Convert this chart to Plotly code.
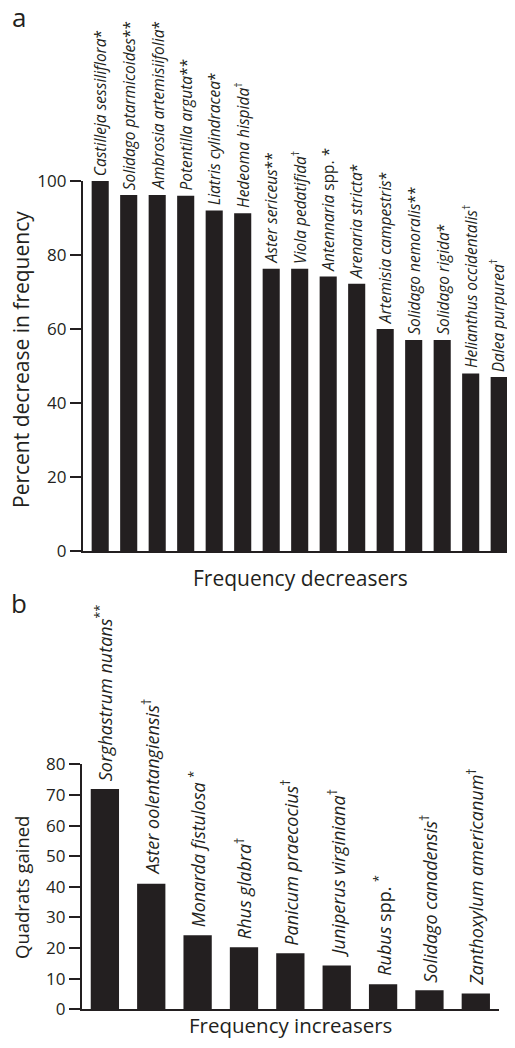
import plotly.graph_objects as go

# ---- Data ----
dec_names = ["Castilleja sessiliflora", "Solidago ptarmicoides", "Ambrosia artemisiifolia",
             "Potentilla arguta", "Liatris cylindracea", "Hedeoma hispida", "Aster sericeus",
             "Viola pedatifida", "Antennaria spp.", "Arenaria stricta", "Artemisia campestris",
             "Solidago nemoralis", "Solidago rigida", "Helianthus occidentalis", "Dalea purpurea"]
dec_labels = ["<i>Castilleja sessiliflora</i>*", "<i>Solidago ptarmicoides</i>**",
              "<i>Ambrosia artemisiifolia</i>*", "<i>Potentilla arguta</i>**",
              "<i>Liatris cylindracea</i>*", "<i>Hedeoma hispida</i><sup>†</sup>",
              "<i>Aster sericeus</i>**", "<i>Viola pedatifida</i><sup>†</sup>",
              "<i>Antennaria</i> spp. *", "<i>Arenaria stricta</i>*",
              "<i>Artemisia campestris</i>*", "<i>Solidago nemoralis</i>**",
              "<i>Solidago rigida</i>*", "<i>Helianthus occidentalis</i><sup>†</sup>",
              "<i>Dalea purpurea</i><sup>†</sup>"]
dec_values = [100, 96.2, 96.2, 96, 92, 91.3, 76.3, 76.3, 74.2, 72.2, 60, 57, 57, 48, 47]
dec_ticks = [0, 20, 40, 60, 80, 100]

inc_names = ["Sorghastrum nutans", "Aster oolentangiensis", "Monarda fistulosa", "Rhus glabra",
             "Panicum praecocius", "Juniperus virginiana", "Rubus spp.", "Solidago canadensis",
             "Zanthoxylum americanum"]
inc_labels = ["<i>Sorghastrum nutans</i><sup>**</sup>", "<i>Aster oolentangiensis</i><sup>†</sup>",
              "<i>Monarda fistulosa</i> <sup>*</sup>", "<i>Rhus glabra</i><sup>†</sup>",
              "<i>Panicum praecocius</i><sup>†</sup>", "<i>Juniperus virginiana</i><sup>†</sup>",
              "<i>Rubus</i> spp. <sup>*</sup>", "<i>Solidago canadensis</i><sup>†</sup>",
              "<i>Zanthoxylum americanum</i><sup>†</sup>"]
inc_values = [72, 41, 24.2, 20.3, 18.3, 14.3, 8.2, 6.2, 5.2]
inc_ticks = [0, 10, 20, 30, 40, 50, 60, 70, 80]

INK = "#231f20"
FONT = "Open Sans"
W, H = 499, 1032   # the page body adds an 8px margin on every side
OFF = 8

def px(x):
    return (x - OFF) / W

def py(y):
    return 1 - (y - OFF) / H

fig = go.Figure()
fig.add_trace(go.Bar(x=dec_names, y=dec_values, width=0.6, marker=dict(color=INK, line=dict(width=0)),
                     xaxis="x", yaxis="y", showlegend=False, hoverinfo="skip"))
fig.add_trace(go.Bar(x=inc_names, y=inc_values, width=0.61, marker=dict(color=INK, line=dict(width=0)),
                     xaxis="x2", yaxis="y2", showlegend=False, hoverinfo="skip"))

ann = []
n_dec = len(dec_names)
for i, (n, lab, v) in enumerate(zip(dec_names, dec_labels, dec_values)):
    ann.append(dict(x=n, y=v, xref="x", yref="y", text=lab, textangle=-90, showarrow=False,
                    xanchor="center", yanchor="bottom", yshift=4, borderpad=0,
                    xshift=(-2 if i == n_dec - 1 else 0),
                    font=dict(family=FONT, size=15.5, color=INK)))
for n, lab, v in zip(inc_names, inc_labels, inc_values):
    ann.append(dict(x=n, y=v, xref="x2", yref="y2", text=lab, textangle=-90, showarrow=False,
                    xanchor="center", yanchor="bottom", yshift=7, borderpad=0,
                    font=dict(family=FONT, size=18, color=INK)))

ann += [
    dict(x=px(19), y=py(17), xref="paper", yref="paper", text="a", showarrow=False, borderpad=0,
         xanchor="center", yanchor="middle", font=dict(family=FONT, size=26, color=INK)),
    dict(x=px(19), y=py(603), xref="paper", yref="paper", text="b", showarrow=False, borderpad=0,
         xanchor="center", yanchor="middle", font=dict(family=FONT, size=26, color=INK)),
    dict(x=px(21), y=py(360), xref="paper", yref="paper", text="Percent decrease in frequency",
         textangle=-90, showarrow=False, xanchor="center", yanchor="middle", borderpad=0,
         font=dict(family=FONT, size=21, color=INK)),
    dict(x=px(300), y=py(578), xref="paper", yref="paper", text="Frequency decreasers",
         showarrow=False, xanchor="center", yanchor="middle", borderpad=0,
         font=dict(family=FONT, size=21, color=INK)),
    dict(x=px(21), y=py(888), xref="paper", yref="paper", text="Quadrats gained",
         textangle=-90, showarrow=False, xanchor="center", yanchor="middle", borderpad=0,
         font=dict(family=FONT, size=18.5, color=INK)),
    dict(x=px(290), y=0, xref="paper", yref="paper", text="Frequency increasers",
         showarrow=False, xanchor="center", yanchor="bottom", borderpad=0,
         font=dict(family=FONT, size=20.5, color=INK)),
]

xcommon = dict(showline=True, linecolor=INK, linewidth=2, ticks="", showticklabels=False,
               showgrid=False, zeroline=False, automargin=False)
ycommon = dict(showline=True, linecolor=INK, linewidth=1.6, ticks="outside", ticklen=11,
               tickwidth=1.6, tickcolor=INK, showgrid=False, zeroline=False, automargin=False,
               tickfont=dict(family=FONT, size=17, color=INK))

fig.update_layout(
    width=W, height=H,
    margin=dict(l=0, r=0, t=0, b=0, pad=0, autoexpand=False),
    paper_bgcolor="white", plot_bgcolor="white",
    xaxis=dict(domain=[px(82.7), px(507)], range=[-0.614, 14.274], anchor="y", **xcommon),
    yaxis=dict(domain=[py(551), py(181)], range=[0, 100], tickvals=dec_ticks, anchor="x", **ycommon),
    xaxis2=dict(domain=[px(81.7), px(499)], range=[-0.5, 8.5], anchor="y2", **xcommon),
    yaxis2=dict(domain=[py(1009.3), py(764.4)], range=[0, 80], tickvals=inc_ticks, anchor="x2", **ycommon),
    annotations=ann,
    font=dict(family=FONT, color=INK),
)

fig.write_html("out.html")
